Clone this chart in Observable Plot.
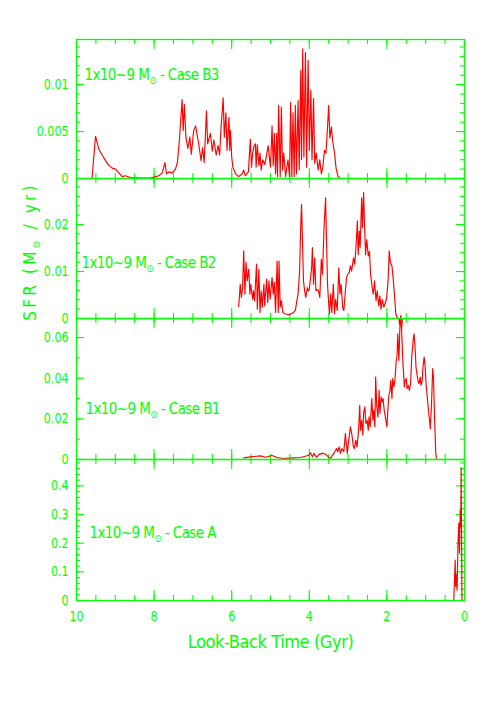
<!DOCTYPE html>
<html><head><meta charset="utf-8">
<script src="https://cdn.jsdelivr.net/npm/d3@7"></script>
<script src="https://cdn.jsdelivr.net/npm/@observablehq/plot@0.6"></script>
<style>
html,body{margin:0;padding:0;background:#fff;}
#chart{position:relative;width:491px;height:708px;background:#fff;overflow:hidden;}
#chart svg{position:absolute;left:0;}
</style></head><body><div id="chart"></div>
<script>
const GREEN = "#00ff00", RED = "#ff0000";
const FONT = "'Liberation Sans Narrow','DejaVu Sans Condensed','Liberation Sans',sans-serif";

const panelLabels = ["1x10~9 M⊙ - Case B3", "1x10~9 M⊙ - Case B2", "1x10~9 M⊙ - Case B1", "1x10~9 M⊙ - Case A"];
const yTitle = "SFR (M⊙ / yr)";
const xTitle = "Look-Back Time (Gyr)";
const xTicks = [10, 8, 6, 4, 2, 0];
const xTickLabels = ["10", "8", "6", "4", "2", "0"];

const yTicksB3 = [0, 0.005, 0.01], yLabelsB3 = ["0", "0.005", "0.01"];
const yTicksB2 = [0, 0.01, 0.02], yLabelsB2 = ["0", "0.01", "0.02"];
const yTicksB1 = [0, 0.02, 0.04, 0.06], yLabelsB1 = ["0", "0.02", "0.04", "0.06"];
const yTicksA = [0, 0.1, 0.2, 0.3, 0.4], yLabelsA = ["0", "0.1", "0.2", "0.3", "0.4"];

const timeB3 = [9.60,9.51,9.43,9.34,9.25,9.17,9.08,8.99,8.91,8.82,8.74,8.61,8.35,8.09,8.0,7.88,7.79,7.72,7.68,7.62,7.53,7.45,7.40,7.35,7.32,7.28,7.25,7.22,7.18,7.13,7.08,7.04,6.98,6.93,6.89,6.85,6.79,6.75,6.71,6.65,6.62,6.55,6.50,6.46,6.40,6.35,6.31,6.28,6.22,6.19,6.15,6.12,6.07,6.05,6.03,6.0,5.97,5.90,5.82,5.73,5.69,5.65,5.57,5.52,5.49,5.46,5.43,5.39,5.37,5.34,5.30,5.27,5.24,5.20,5.15,5.10,5.06,5.03,5.00,4.96,4.93,4.90,4.87,4.84,4.82,4.79,4.75,4.72,4.69,4.66,4.61,4.58,4.55,4.51,4.48,4.45,4.42,4.39,4.36,4.33,4.29,4.26,4.22,4.20,4.17,4.14,4.10,4.07,4.03,4.0,3.96,3.93,3.89,3.86,3.82,3.77,3.73,3.69,3.65,3.61,3.57,3.53,3.50,3.47,3.43,3.40,3.35,3.31,3.26,3.20,3.0,0];
const sfrB3 = [0,0.0045,0.0032,0.0025,0.0019,0.0014,0.0011,0.001,0.0006,0.0002,0.0003,0.0001,0.00005,0.00005,0.00015,0.0003,0.0006,0.0017,0.0005,0.0007,0.0006,0.001,0.0017,0.004,0.0058,0.0084,0.0051,0.0079,0.0044,0.0032,0.0044,0.0026,0.0051,0.0056,0.0046,0.0037,0.0019,0.0033,0.0017,0.0072,0.0037,0.0048,0.0029,0.0041,0.0025,0.0035,0.0025,0.0051,0.0086,0.0044,0.007,0.003,0.0065,0.003,0.0051,0.0023,0.0012,0.0005,0.0002,0.0005,0.0009,0.0003,0.0007,0.0042,0.0012,0.0027,0.0034,0.0037,0.0012,0.0036,0.0014,0.0027,0.0009,0.002,0.0015,0.0025,0.0035,0.0023,0.0012,0.0056,0.0014,0.0048,0.0005,0.0048,0.0002,0.0078,0.0002,0.0076,0.0009,0.0027,0.0002,0.0012,0.002,0.0002,0.0081,0.0002,0.007,0.0002,0.0078,0.0005,0.0083,0.0009,0.0115,0.002,0.0138,0.0023,0.0134,0.0012,0.0126,0.003,0.0094,0.002,0.0085,0.0016,0.0027,0.0009,0.002,0.0005,0.0012,0.003,0.0027,0.0055,0.0078,0.0043,0.0055,0.0041,0.0027,0.0011,0.0002,0.00003,0,0];

const timeB2 = [5.82,5.78,5.75,5.72,5.69,5.66,5.63,5.60,5.56,5.53,5.51,5.46,5.44,5.41,5.36,5.34,5.30,5.27,5.24,5.21,5.17,5.15,5.10,5.07,5.04,5.01,4.96,4.93,4.90,4.87,4.83,4.80,4.78,4.75,4.72,4.68,4.63,4.52,4.43,4.36,4.32,4.29,4.25,4.22,4.20,4.18,4.15,4.12,4.09,4.05,4.03,4.0,3.94,3.92,3.89,3.86,3.83,3.80,3.76,3.73,3.69,3.66,3.62,3.58,3.56,3.53,3.50,3.48,3.45,3.42,3.38,3.35,3.32,3.28,3.24,3.21,3.18,3.14,3.11,3.07,3.04,3.01,2.97,2.94,2.91,2.86,2.83,2.80,2.76,2.74,2.71,2.69,2.65,2.63,2.60,2.58,2.55,2.52,2.48,2.45,2.42,2.38,2.35,2.32,2.28,2.25,2.21,2.18,2.15,2.12,2.08,2.05,2.01,1.97,1.94,1.91,1.87,1.84,1.80,1.77,1.73,1.69,1.675,1.66,1.62,1.60,0];
const sfrB2 = [0.0025,0.0073,0.0045,0.0064,0.0144,0.0052,0.0119,0.008,0.0105,0.0052,0.0073,0.0041,0.0059,0.0038,0.0116,0.002,0.0105,0.0013,0.0059,0.0024,0.0073,0.0027,0.0084,0.0034,0.008,0.0041,0.0087,0.0052,0.0077,0.0013,0.0122,0.0013,0.0122,0.0024,0.0038,0.0013,0.001,0.0008,0.0011,0.0017,0.0038,0.0052,0.0101,0.02,0.0243,0.0179,0.008,0.0059,0.0045,0.0066,0.0059,0.0062,0.0108,0.0151,0.0073,0.0129,0.0059,0.0062,0.0059,0.0045,0.0126,0.0094,0.0193,0.0257,0.0179,0.0073,0.0031,0.001,0.0052,0.0013,0.0073,0.001,0.0041,0.0017,0.0108,0.0052,0.0073,0.0024,0.0017,0.0059,0.0087,0.0094,0.0098,0.0112,0.0101,0.0129,0.0115,0.0147,0.0208,0.0136,0.0186,0.0151,0.0257,0.0193,0.0268,0.0208,0.0136,0.0168,0.0133,0.0143,0.0094,0.0066,0.0052,0.008,0.0038,0.0059,0.0027,0.0048,0.002,0.0041,0.0024,0.0031,0.0041,0.008,0.0144,0.0119,0.0112,0.0087,0.0045,0.001,0.0001,0,-0.0012,0,-0.0022,0,0];

const timeB1 = [5.69,5.52,5.26,5.13,4.96,4.83,4.66,4.40,4.23,4.10,4.01,3.97,3.92,3.88,3.81,3.75,3.66,3.58,3.50,3.45,3.37,3.30,3.27,3.23,3.20,3.16,3.11,3.07,3.02,2.98,2.94,2.90,2.87,2.84,2.80,2.77,2.73,2.70,2.68,2.65,2.62,2.60,2.57,2.54,2.51,2.48,2.46,2.43,2.39,2.36,2.34,2.31,2.29,2.26,2.23,2.20,2.18,2.15,2.13,2.10,2.07,2.04,2.00,1.97,1.95,1.92,1.90,1.87,1.85,1.82,1.79,1.76,1.74,1.72,1.69,1.66,1.64,1.61,1.59,1.55,1.53,1.50,1.48,1.45,1.42,1.39,1.36,1.32,1.30,1.27,1.25,1.22,1.19,1.17,1.14,1.12,1.09,1.07,1.04,1.02,0.99,0.96,0.93,0.90,0.88,0.85,0.82,0.80,0.77,0.74,0.72,0];
const sfrB1 = [0.0008,0.0013,0.0018,0.0011,0.002,0.001,0.0005,0.0008,0.001,0.0016,0.0021,0.0033,0.0013,0.003,0.001,0.0025,0.003,0.0026,0.001,0.0007,0.003,0.0054,0.0038,0.0062,0.003,0.0054,0.0038,0.0128,0.003,0.0103,0.0161,0.012,0.007,0.0054,0.0095,0.0062,0.0144,0.0267,0.0144,0.0193,0.012,0.0226,0.0259,0.0177,0.0193,0.0144,0.021,0.0161,0.03,0.0193,0.0243,0.0161,0.0406,0.0259,0.021,0.034,0.0226,0.0308,0.0283,0.03,0.0243,0.021,0.0161,0.0259,0.0316,0.034,0.039,0.03,0.0398,0.0357,0.0398,0.0488,0.0504,0.0619,0.0488,0.0684,0.071,0.0586,0.0488,0.0357,0.039,0.0398,0.0349,0.0365,0.034,0.0373,0.0504,0.0594,0.0619,0.0537,0.0455,0.0414,0.0382,0.0373,0.0406,0.0365,0.039,0.0455,0.0504,0.0472,0.0373,0.0308,0.0243,0.0193,0.0152,0.0275,0.0447,0.0406,0.0193,0.003,0,0];

const timeA = [0.276,0.24,0.23,0.22,0.19,0.17,0.146,0.13,0.11,0.095,0.086,0.065];
const sfrA = [0,0.141,0.05,0.094,0.036,0.19,0.27,0.165,0.317,0.258,0.463,0];

const panels = [
  {top: 39, bottom: 178, yMax: 0.0148, ticks: yTicksB3, labels: yLabelsB3, minorStep: 0.001, times: timeB3, sfr: sfrB3, label: panelLabels[0], ldx: 8, ldy: 36},
  {top: 178, bottom: 318, yMax: 0.0298, ticks: yTicksB2, labels: yLabelsB2, minorStep: 0.002, times: timeB2, sfr: sfrB2, label: panelLabels[1], ldx: 5, ldy: 85, yTitle: true},
  {top: 318, bottom: 459, yMax: 0.0694, ticks: yTicksB1, labels: yLabelsB1, minorStep: 0.01, times: timeB1, sfr: sfrB1, label: panelLabels[2], ldx: 9, ldy: 91},
  {top: 459, bottom: 600, yMax: 0.492, ticks: yTicksA, labels: yLabelsA, minorStep: 0.02, times: timeA, sfr: sfrA, label: panelLabels[3], ldx: 13, ldy: 74, isBottom: true}
];

const LEFT = 76, RIGHT = 464, W = 491;
const innerW = RIGHT - LEFT;
const xMinor = d3.range(0, 10.001, 0.5);

const chart = document.getElementById("chart");

for (const p of panels) {
  const pad = 14;
  const innerH = p.bottom - p.top;
  const mb = p.isBottom ? 70 : pad;
  const data = p.times.map((t, i) => ({t, v: p.sfr[i]}));
  const yMinor = d3.range(0, p.yMax + 1e-9, p.minorStep);
  const marks = [
    Plot.tickY(yMinor, {y: d => d, stroke: GREEN, strokeWidth: 1.1, insetRight: innerW - 4}),
    Plot.tickY(yMinor, {y: d => d, stroke: GREEN, strokeWidth: 1.1, insetLeft: innerW - 4}),
    Plot.tickY(p.ticks, {y: d => d, stroke: GREEN, strokeWidth: 1.1, insetRight: innerW - 8}),
    Plot.tickY(p.ticks, {y: d => d, stroke: GREEN, strokeWidth: 1.1, insetLeft: innerW - 8}),
    Plot.tickX(xMinor, {x: d => d, stroke: GREEN, strokeWidth: 1.1, insetTop: innerH - 5}),
    Plot.tickX(xMinor, {x: d => d, stroke: GREEN, strokeWidth: 1.1, insetBottom: innerH - 5}),
    Plot.tickX(xTicks, {x: d => d, stroke: GREEN, strokeWidth: 1.1, insetTop: innerH - 10}),
    Plot.tickX(xTicks, {x: d => d, stroke: GREEN, strokeWidth: 1.1, insetBottom: innerH - 10}),
    Plot.axisY(p.ticks, {tickSize: 0, tickPadding: 8, tickFormat: d => p.labels[p.ticks.indexOf(d)], fill: GREEN, fontSize: 14, fontFamily: FONT, label: null}),
    Plot.line(data, {x: "t", y: "v", stroke: RED, strokeWidth: 1.15, clip: false}),
    Plot.frame({stroke: GREEN, strokeWidth: 1.3}),
    Plot.text([p.label], {text: d => d, frameAnchor: "top-left", dx: p.ldx, dy: p.ldy, textAnchor: "start", lineAnchor: "middle", fill: GREEN, fontSize: 15, fontFamily: FONT, className: "plabel"})
  ];
  if (p.yTitle) {
    marks.push(Plot.text([yTitle], {text: d => d, frameAnchor: "left", dx: -46, dy: 3, rotate: -90, textAnchor: "middle", lineAnchor: "middle", fill: GREEN, fontSize: 17, fontFamily: FONT, className: "ytitle"}));
  }
  if (p.isBottom) {
    marks.push(Plot.axisX(xTicks, {tickSize: 0, tickPadding: 11, tickFormat: d => xTickLabels[xTicks.indexOf(d)], fill: GREEN, fontSize: 14, fontFamily: FONT, label: null}));
    marks.push(Plot.text([xTitle], {text: d => d, frameAnchor: "bottom", dy: 42, textAnchor: "middle", lineAnchor: "middle", fill: GREEN, fontSize: 18, fontFamily: FONT, className: "xtitle"}));
  }
  const svg = Plot.plot({
    width: W,
    height: innerH + pad + mb,
    marginLeft: LEFT, marginRight: W - RIGHT, marginTop: pad, marginBottom: mb,
    x: {domain: [10, 0], axis: p.isBottom ? undefined : null},
    y: {domain: [0, p.yMax]},
    style: {background: "transparent", overflow: "visible"},
    marks
  });
  svg.style.top = (p.top - pad) + "px";
  svg.style.overflow = "visible";
  svg.style.background = "transparent";
  chart.appendChild(svg);
}

// letter spacing to mimic the original lettering widths
chart.querySelectorAll(".plabel text").forEach(t => t.style.letterSpacing = "-0.6px");
chart.querySelectorAll(".ytitle text").forEach(t => t.style.letterSpacing = "3.2px");
chart.querySelectorAll(".xtitle text").forEach(t => t.style.letterSpacing = "-0.4px");

// subscript solar symbol
const ns = "http://www.w3.org/2000/svg";
chart.querySelectorAll("text").forEach(t => {
  const s = t.textContent;
  if (s.includes("⊙") && !t.children.length) {
    const [a, b] = s.split("⊙");
    t.textContent = "";
    const t1 = document.createElementNS(ns, "tspan"); t1.textContent = a;
    const t2 = document.createElementNS(ns, "tspan"); t2.textContent = "⊙"; t2.setAttribute("font-size", "10"); t2.setAttribute("dy", "4");
    const t3 = document.createElementNS(ns, "tspan"); t3.textContent = b; t3.setAttribute("dy", "-4");
    t.append(t1, t2, t3);
  } else if (/^[0-9.]+$/.test(s)) {
    const len = t.getComputedTextLength();
    if (len > 0) {
      t.setAttribute("textLength", (len * 0.88).toFixed(1));
      t.setAttribute("lengthAdjust", "spacingAndGlyphs");
    }
  }
});
</script></body></html>
